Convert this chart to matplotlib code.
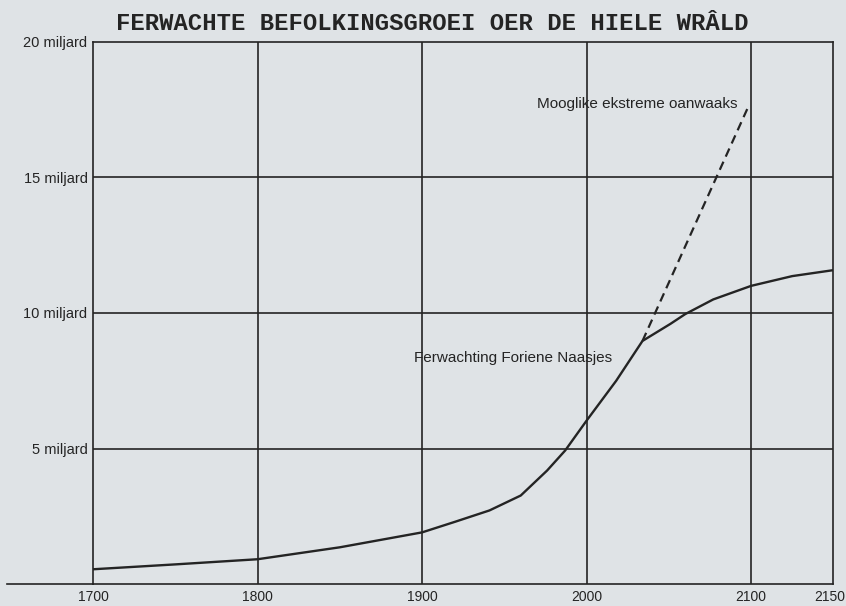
import matplotlib
matplotlib.use("Agg")
import matplotlib.pyplot as plt
import matplotlib.transforms as mtransforms
from matplotlib.lines import Line2D

# Data (world population, billions)
years = [1700, 1750, 1800, 1850, 1900, 1920, 1941, 1960, 1976, 1987, 2000, 2018, 2034, 2051, 2060, 2077, 2100, 2125, 2150]
population = [0.55, 0.73, 0.92, 1.36, 1.91, 2.3, 2.72, 3.27, 4.19, 4.93, 6.03, 7.5, 8.97, 9.6, 9.96, 10.5, 11.0, 11.36, 11.58]

extreme_years = [2034, 2099]
extreme_pop = [8.97, 17.7]

x_ticks = [1700, 1800, 1900, 2000, 2100, 2150]
x_ticklabels = ["1700", "1800", "1900", "2000", "2100", "2150"]
y_ticks = [5, 10, 15, 20]
y_ticklabels = ["5 miljard", "10 miljard", "15 miljard", "20 miljard"]

title = "FERWACHTE BEFOLKINGSGROEI OER DE HIELE WRÂLD"
label_main = "Ferwachting Foriene Naasjes"
label_extreme = "Mooglike ekstreme oanwaaks"

bg = "#dfe3e6"
ink = "#242424"

fig = plt.figure(figsize=(8.46, 6.06), dpi=100)
fig.patch.set_facecolor(bg)
ax = fig.add_axes([0.110, 0.036, 0.875, 0.895])
ax.set_facecolor(bg)

ax.set_xlim(1700, 2150)
ax.set_ylim(0, 20)

for x in [1800, 1900, 2000, 2100]:
    ax.axvline(x, color=ink, lw=1.2, zorder=1)
for y in [5, 10, 15]:
    ax.axhline(y, color=ink, lw=1.2, zorder=1)

ax.plot(years, population, color=ink, lw=1.7, zorder=3, solid_joinstyle="round")
ax.plot(extreme_years, extreme_pop, color=ink, lw=1.6, ls=(0, (4, 2.5)), zorder=3)

for s in ax.spines.values():
    s.set_color(ink)
    s.set_linewidth(1.2)

ax.set_yticks(y_ticks)
ax.set_yticklabels(y_ticklabels, fontsize=10.5, family="Liberation Sans", color=ink)
ax.set_xticks(x_ticks)
ax.set_xticklabels(x_ticklabels, fontsize=10, family="Liberation Sans", color=ink)
ax.tick_params(axis="y", length=0, pad=4)
ax.tick_params(axis="x", length=0, pad=4)
lbls = ax.get_xticklabels()
lbls[5].set_transform(lbls[5].get_transform() + mtransforms.ScaledTranslation(-4/100, 0, fig.dpi_scale_trans))

# axis baseline extends to the left
fig.add_artist(Line2D([0.008, 0.11], [0.036, 0.036], color=ink, lw=1.2))

ax.text(2015.5, 8.35, label_main, fontsize=11, family="Liberation Sans", color=ink,
        ha="right", va="center")
ax.text(2091.5, 17.7, label_extreme, fontsize=11, family="Liberation Sans", color=ink,
        ha="right", va="center")

fig.text(0.511, 0.962, title, fontsize=17.2, family="Liberation Mono", weight="bold",
         color=ink, ha="center", va="center")

fig.savefig("out.png", dpi=100, facecolor=bg)
